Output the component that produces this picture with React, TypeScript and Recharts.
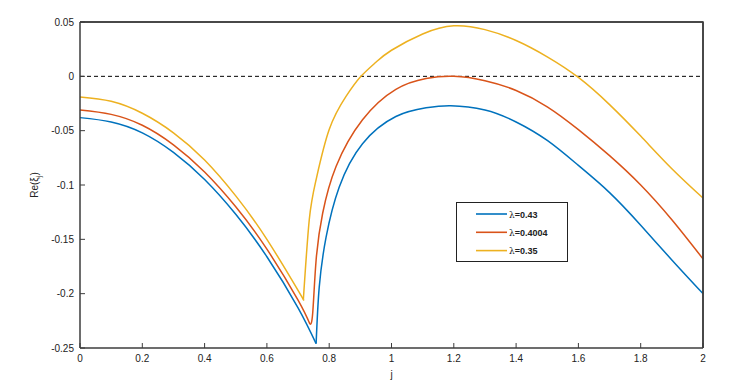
import { LineChart, Line, XAxis, YAxis, ReferenceLine } from 'recharts'

// j values and Re(xi_j), one pair of arrays per lambda
const jBlue = [0, 0.1, 0.2, 0.3, 0.4, 0.5, 0.6, 0.7, 0.758, 0.768, 0.79, 0.832, 0.907, 1.014, 1.111, 1.19, 1.3, 1.4, 1.5, 1.6, 1.7, 1.8, 1.9, 2.0]
const reBlue = [-0.038, -0.042, -0.052, -0.070, -0.095, -0.127, -0.166, -0.213, -0.246, -0.194, -0.148, -0.102, -0.062, -0.037, -0.029, -0.027, -0.031, -0.042, -0.059, -0.082, -0.107, -0.137, -0.169, -0.200]

const jRed = [0, 0.1, 0.2, 0.3, 0.4, 0.5, 0.6, 0.7, 0.738, 0.747, 0.758, 0.779, 0.822, 0.907, 1.014, 1.111, 1.2, 1.3, 1.4, 1.5, 1.6, 1.7, 1.8, 1.9, 2.0]
const reRed = [-0.031, -0.035, -0.045, -0.063, -0.088, -0.120, -0.159, -0.206, -0.228, -0.218, -0.169, -0.126, -0.083, -0.040, -0.012, -0.002, 0.0, -0.004, -0.013, -0.028, -0.049, -0.073, -0.100, -0.132, -0.168]

const jYellow = [0, 0.1, 0.2, 0.3, 0.4, 0.5, 0.6, 0.7, 0.717, 0.736, 0.758, 0.8, 0.854, 0.902, 0.95, 1.0, 1.1, 1.2, 1.3, 1.4, 1.5, 1.6, 1.7, 1.8, 1.9, 2.0]
const reYellow = [-0.019, -0.023, -0.034, -0.052, -0.077, -0.110, -0.150, -0.197, -0.2055, -0.132, -0.095, -0.049, -0.0185, 0.0, 0.013, 0.024, 0.039, 0.0465, 0.043, 0.033, 0.018, -0.001, -0.026, -0.055, -0.085, -0.112]

const seriesNames = ['λ=0.43', 'λ=0.4004', 'λ=0.35']
const seriesColors = ['#0072BD', '#D95319', '#EDB120']

const xTicks = [0, 0.2, 0.4, 0.6, 0.8, 1, 1.2, 1.4, 1.6, 1.8, 2]
const yTicks = [0.05, 0, -0.05, -0.1, -0.15, -0.2, -0.25]

// split each curve at its cusp (the minimum) so the kink stays sharp
const toParts = (js: number[], vals: number[]) => {
  const rows = js.map((j, i) => ({ j, re: vals[i] }))
  const k = vals.indexOf(Math.min(...vals))
  return [rows.slice(0, k + 1), rows.slice(k)]
}
const series = [
  toParts(jBlue, reBlue),
  toParts(jRed, reRed),
  toParts(jYellow, reYellow)
]

const FRAME = '#3c3c3c'
const FONT = '"Liberation Sans", Arial, sans-serif'

// plot box, from the chart margins below
const PLOT = { left: 80, top: 22, right: 703, bottom: 348 }

const BottomTick = ({ x, y, payload }: any) => (
  <g>
    <line x1={x} x2={x} y1={y} y2={y - 5} stroke={FRAME} />
    <text x={x} y={y + 14} textAnchor="middle" fontSize={10} fontFamily={FONT} fill="#222">
      {String(payload.value)}
    </text>
  </g>
)
const TopTick = ({ x, y }: any) => (
  <line x1={x} x2={x} y1={y} y2={y + 5} stroke={FRAME} />
)
const LeftTick = ({ x, y, payload }: any) => (
  <g>
    <line x1={x} x2={x + 5} y1={y} y2={y} stroke={FRAME} />
    <text x={x - 6} y={y + 3.5} textAnchor="end" fontSize={10} fontFamily={FONT} fill="#222">
      {String(payload.value)}
    </text>
  </g>
)
const RightTick = ({ x, y }: any) => (
  <line x1={x} x2={x - 5} y1={y} y2={y} stroke={FRAME} />
)

const YTitle = ({ viewBox }: any) => {
  const cx = viewBox.x + 38
  const cy = viewBox.y + viewBox.height / 2
  return (
    <text
      x={cx}
      y={cy}
      transform={`rotate(-90 ${cx} ${cy})`}
      textAnchor="middle"
      fontSize={10}
      fontFamily={FONT}
      fill="#222"
    >
      Re(ξ<tspan fontSize={7} dy={3}>j</tspan><tspan dy={-3}>)</tspan>
    </text>
  )
}

const XTitle = ({ viewBox }: any) => (
  <text
    x={viewBox.x + viewBox.width / 2}
    y={viewBox.y + 30}
    textAnchor="middle"
    fontSize={10}
    fontFamily={FONT}
    fill="#222"
  >
    j
  </text>
)

const LegendBox = () => (
  <svg width={113} height={61} style={{ position: 'absolute', left: 456, top: 202 }}>
    <rect x={0.5} y={0.5} width={111} height={59} fill="#fff" stroke="#222" />
    {seriesNames.map((name, i) => (
      <g key={name}>
        <line x1={20} x2={51} y1={12 + i * 18.3} y2={12 + i * 18.3} stroke={seriesColors[i]} strokeWidth={1.6} />
        <text x={53} y={15.5 + i * 18.3} fontSize={9} fontFamily={FONT} fill="#222">
          <tspan fontFamily="DejaVu Serif" fontSize={9}>λ</tspan>
          <tspan fontWeight="bold">{name.slice(1)}</tspan>
        </text>
      </g>
    ))}
  </svg>
)

// top and right edges of the box, drawn over the chart
const BoxEdges = () => (
  <svg width={740} height={388} style={{ position: 'absolute', left: 0, top: 0, pointerEvents: 'none' }}>
    <polyline
      points={`${PLOT.left},${PLOT.top} ${PLOT.right},${PLOT.top} ${PLOT.right},${PLOT.bottom}`}
      fill="none"
      stroke={FRAME}
      strokeWidth={1.5}
    />
  </svg>
)

export default function App() {
  return (
    <div style={{ margin: -8, width: 740, height: 388, background: '#fff', position: 'relative' }}>
      <LineChart
        width={740}
        height={388}
        margin={{ top: 21, right: 36, left: 0, bottom: 0 }}
      >
        <XAxis
          type="number"
          dataKey="j"
          domain={[0, 2]}
          ticks={xTicks}
          height={40}
          tickSize={0}
          tickMargin={0}
          tick={<BottomTick />}
          tickLine={false}
          axisLine={{ stroke: FRAME, strokeWidth: 1.5 }}
          label={<XTitle />}
        />
        <XAxis
          xAxisId="top"
          orientation="top"
          type="number"
          dataKey="j"
          domain={[0, 2]}
          ticks={xTicks}
          height={1}
          tickSize={0}
          tickMargin={0}
          tick={<TopTick />}
          tickLine={false}
          axisLine={{ stroke: FRAME, strokeWidth: 1.5 }}
        />
        <YAxis
          type="number"
          domain={[-0.25, 0.05]}
          ticks={yTicks}
          width={80}
          tickSize={0}
          tickMargin={0}
          tick={<LeftTick />}
          tickLine={false}
          axisLine={{ stroke: FRAME, strokeWidth: 1.5 }}
          label={<YTitle />}
        />
        <YAxis
          yAxisId="right"
          orientation="right"
          type="number"
          domain={[-0.25, 0.05]}
          ticks={yTicks}
          width={1}
          tickSize={0}
          tickMargin={0}
          tick={<RightTick />}
          tickLine={false}
          axisLine={{ stroke: FRAME, strokeWidth: 1.5 }}
        />
        <ReferenceLine y={0} stroke="#000" strokeDasharray="4 3" strokeWidth={1} />
        {series.flatMap((parts, i) =>
          parts.map((rows, p) => (
            <Line
              key={`${seriesNames[i]}-${p}`}
              data={rows}
              dataKey="re"
              name={seriesNames[i]}
              type="natural"
              stroke={seriesColors[i]}
              strokeWidth={1.5}
              dot={false}
              isAnimationActive={false}
            />
          ))
        )}
      </LineChart>
      <BoxEdges />
      <LegendBox />
    </div>
  )
}
